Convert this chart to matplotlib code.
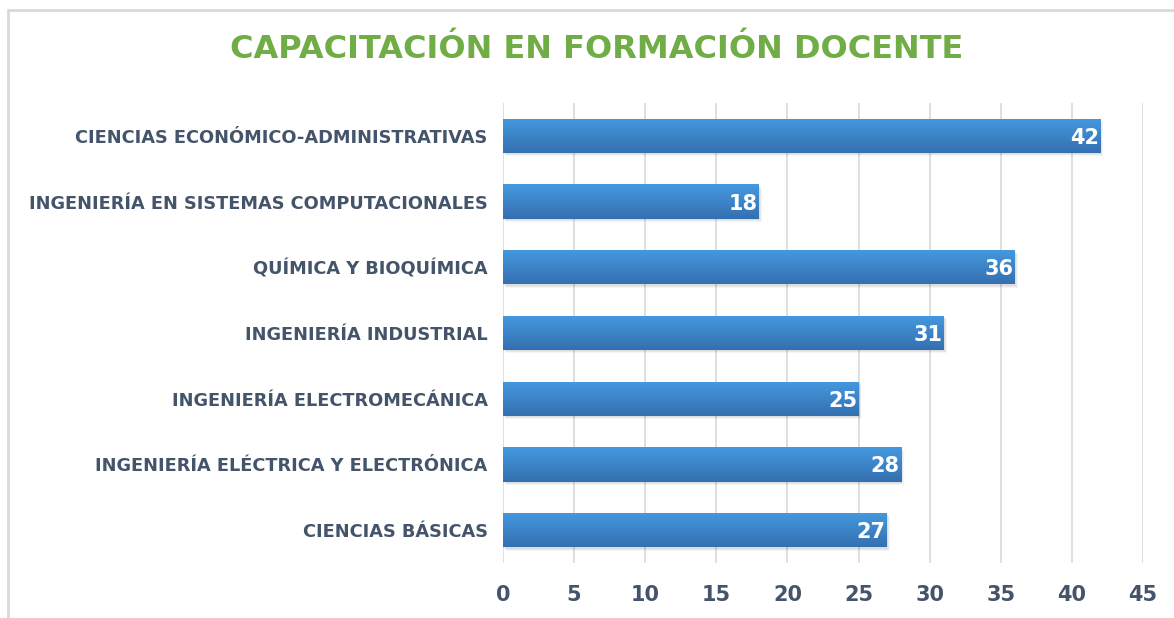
import matplotlib
matplotlib.use("Agg")
import matplotlib.pyplot as plt
import numpy as np
from matplotlib.patches import Rectangle
from matplotlib.colors import LinearSegmentedColormap

categories = [
    "CIENCIAS ECONÓMICO-ADMINISTRATIVAS",
    "INGENIERÍA EN SISTEMAS COMPUTACIONALES",
    "QUÍMICA Y BIOQUÍMICA",
    "INGENIERÍA INDUSTRIAL",
    "INGENIERÍA ELECTROMECÁNICA",
    "INGENIERÍA ELÉCTRICA Y ELECTRÓNICA",
    "CIENCIAS BÁSICAS",
]
values = [42, 18, 36, 31, 25, 28, 27]
xticks = [0, 5, 10, 15, 20, 25, 30, 35, 40, 45]
title = "CAPACITACIÓN EN FORMACIÓN DOCENTE"

FONT = ["DejaVu Sans"]
plt.rcParams["font.family"] = FONT
TXT = "#44546A"

fig = plt.figure(figsize=(11.74, 6.18), dpi=100)
fig.patches.append(Rectangle((8/1174, -0.1), 1.2, 1 - 10/618 + 0.1, transform=fig.transFigure,
                             fill=False, edgecolor="#D9D9D9", linewidth=2))
ax = fig.add_axes([503/1174, 1 - 563/618, 640/1174, 460/618])

y = np.arange(len(categories))[::-1]
bh = 0.52
# soft shadow
for k, a in enumerate([0.05, 0.05, 0.04]):
    ax.barh(y - 0.02 - 0.015 * k, values, height=bh, left=0.08 + 0.06 * k,
            color="#000000", alpha=a, zorder=2, linewidth=0)
bars = ax.barh(y, values, height=bh, color="#3F88D0", zorder=3, linewidth=0)
grad = np.linspace(0, 1, 100).reshape(-1, 1)
cmap = LinearSegmentedColormap.from_list("g", ["#3470B0", "#4599E0"])
for b in bars:
    x0, y0, w, h = b.get_x(), b.get_y(), b.get_width(), b.get_height()
    im = ax.imshow(grad, extent=[x0, x0 + w, y0, y0 + h], origin="lower", cmap=cmap,
                   aspect="auto", zorder=4)
    im.set_clip_path(b)
    ax.text(x0 + w - 0.1, y0 + h / 2 - 0.03, str(int(w)), ha="right", va="center",
            color="white", fontsize=15, fontweight="bold", zorder=5)

ax.set_xlim(0, 45)
ax.set_ylim(-0.5, len(categories) - 0.5)
ax.set_xticks(xticks)
ax.set_xticklabels([str(t) for t in xticks], fontsize=15, fontweight="bold", color=TXT)
ax.set_yticks(y)
ax.set_yticklabels(categories, fontsize=12.8, fontweight="bold", color=TXT)
ax.tick_params(axis="both", length=0)
ax.tick_params(axis="y", pad=11)
ax.tick_params(axis="x", pad=16)
ax.grid(axis="x", color="#D9D9D9", linewidth=1.2, zorder=0)
ax.set_axisbelow(True)
for s in ax.spines.values():
    s.set_visible(False)

fig.text(597/1174, 1 - 50/618, title, ha="center", va="center", color="#70AD47",
         fontsize=23, fontweight="bold")

fig.savefig("out.png", dpi=100)
